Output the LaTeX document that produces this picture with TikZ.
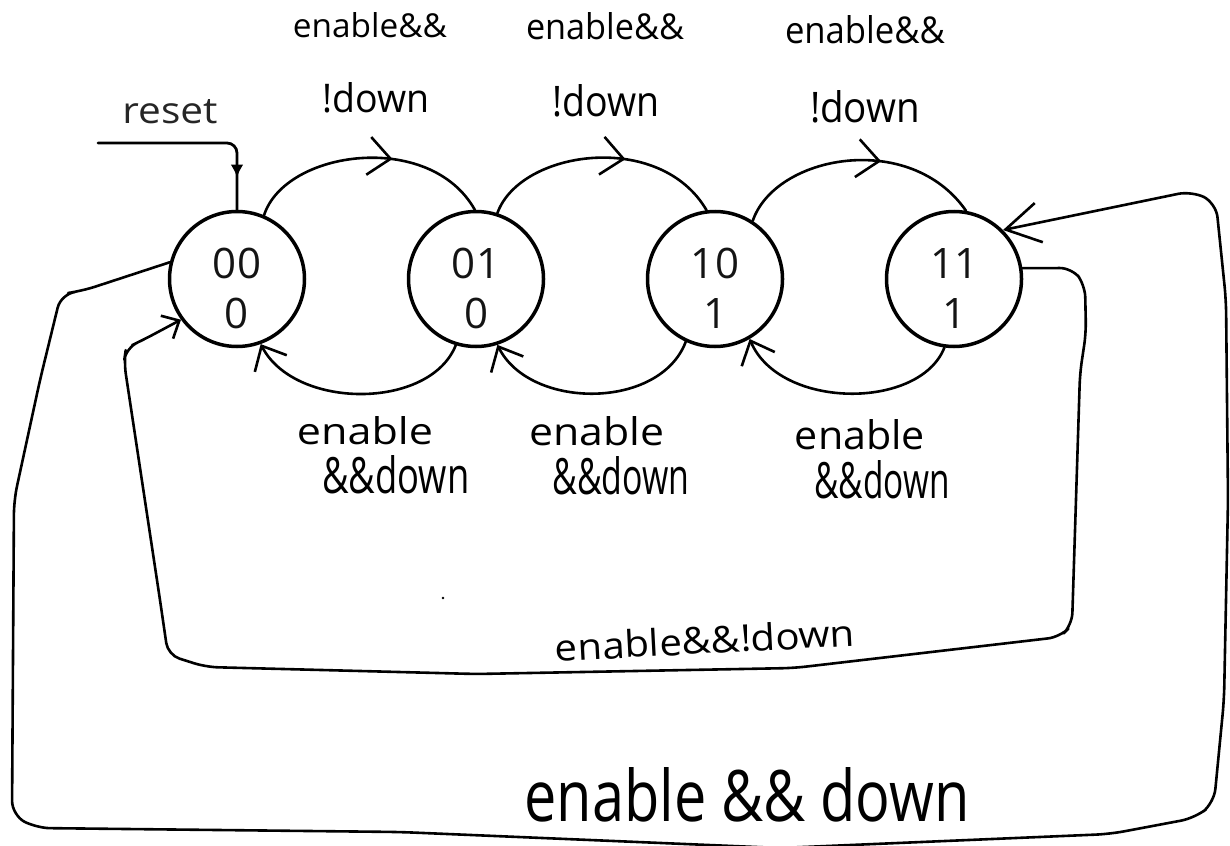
\documentclass[tikz,border=0pt]{standalone}
\usepackage{fontspec}
\setmainfont{Open Sans}
\usetikzlibrary{arrows.meta,decorations.markings}
\newcommand{\hwtext}[3]{\resizebox{#1pt}{#2pt}{#3}}
\tikzset{
  st/.style={circle,draw=black,line width=3.5pt,minimum size=135pt,inner sep=0pt},
  sttxt/.style={align=center,yshift=-9.5pt,font=\fontsize{42}{50}\selectfont,text=black!92},
  ln/.style={draw=black,line width=2.6pt,line cap=round,line join=round},
  endbarb/.style={-{Straight Barb[length=20pt,width=36pt]}},
  midbarb/.style={postaction={decorate},decoration={markings,mark=at position #1 with {\arrow{Straight Barb[length=22pt,width=38pt]}}}},
  hw/.style={inner sep=0pt,text=black},
}
\begin{document}
\begin{tikzpicture}[x=1pt,y=-1pt]
\useasboundingbox[fill=white] (0,0) rectangle (1230,845);

% states
\node[st,label={[sttxt]center:{00\\0}}] (s00) at (237,279) {};
\node[st,label={[sttxt]center:{01\\0}}] (s01) at (476,279) {};
\node[st,label={[sttxt]center:{10\\1}}] (s10) at (715,279) {};
\node[st,label={[sttxt]center:{11\\1}}] (s11) at (954,279) {};

% reset
\coordinate (rs) at (98,143);
\node[hw,text=black!85] (rlab) at (170,112) {\hwtext{95}{24}{reset}};
\draw[ln,line width=2.8pt,rounded corners=10pt,postaction={decorate},
  decoration={markings,mark=at position 0.84 with {\arrow{Latex[length=13pt,width=13pt]}}}]
  (rs) -- (237,143) -- (s00.north);

% forward transitions (top)
\draw[ln,midbarb=0.6] (s00.67) .. controls (285,150) and (430,130) .. (s01.91);
\draw[ln,midbarb=0.6] (s01.72) .. controls (520,150) and (660,130) .. (s10.97);
\draw[ln,midbarb=0.6] (s10.57) .. controls (775,155) and (910,130) .. (s11.80);

% backward transitions (bottom)
\draw[ln,endbarb] (s01.253) .. controls (430,410) and (295,410) .. (s00.290);
\draw[ln,endbarb] (s10.245) .. controls (660,410) and (530,410) .. (s01.288);
\draw[ln,endbarb] (s11.262) .. controls (920,410) and (780,410) .. (s10.300);

% inner loop 11 -> 00
\draw[ln,rounded corners=12pt,-{Straight Barb[length=14pt,width=26pt]}]
  (s11.9) -- (1072,268) -- (1085,285) -- (1086,333) -- (1080,373) -- (1072,625)
  -- (1060,637) -- (794,668) -- (476,674) -- (206,667) -- (168,655) -- (160,600)
  -- (124,362) -- (126,348) -- (143,340) -- (s00.216);

% outer loop 00 -> 11
\draw[ln,rounded corners=14pt,-{Straight Barb[length=34pt,width=40pt]}]
  (s00.166) -- (82,291) -- (61,294) -- (40,380) -- (14,500) -- (12,815)
  -- (36,828) -- (400,832) -- (780,848) -- (1110,834) -- (1195,818) -- (1214,803)
  -- (1224,700) -- (1228,500) -- (1226,300) -- (1216,203) -- (1192,191) -- (s11.45);

% stray dot
\fill (443,598) circle (1.4);

% labels top
\node[hw] (t1a) at (370,25) {\hwtext{154}{25}{enable\&\&}};
\node[hw] (t1b) at (376,98) {\hwtext{107}{30}{!down}};
\node[hw] (t2a) at (605,26) {\hwtext{158}{27}{enable\&\&}};
\node[hw] (t2b) at (606,101) {\hwtext{107}{32}{!down}};
\node[hw] (t3a) at (865,30) {\hwtext{160}{28}{enable\&\&}};
\node[hw] (t3b) at (865,107) {\hwtext{110}{32}{!down}};

% labels bottom
\node[hw] (b1a) at (365,431) {\hwtext{136}{28}{enable}};
\node[hw] (b1b) at (396,475) {\hwtext{147}{38}{\&\&down}};
\node[hw] (b2a) at (597,431) {\hwtext{135}{29}{enable}};
\node[hw] (b2b) at (621,476) {\hwtext{137}{38}{\&\&down}};
\node[hw] (b3a) at (860,435) {\hwtext{130}{30}{enable}};
\node[hw] (b3b) at (882,480) {\hwtext{135}{38}{\&\&down}};

% loop labels
\node[hw,rotate=3] (l1) at (705,640) {\hwtext{300}{28}{enable\&\&!down}};
\node[hw] (l2) at (747,795) {\hwtext{445}{54}{enable \&\& down}};
\end{tikzpicture}
\end{document}
